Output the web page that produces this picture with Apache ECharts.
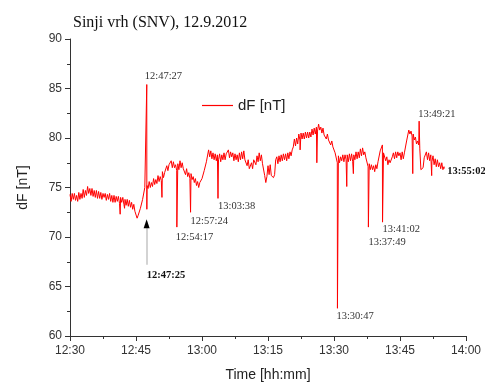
<!DOCTYPE html>
<html>
<head>
<meta charset="utf-8">
<script src="https://cdn.jsdelivr.net/npm/echarts@6/dist/echarts.min.js"></script>
<style>
  html, body { margin: 0; padding: 0; background: #fff; }
  #main { width: 485px; height: 387px; }
</style>
</head>
<body>
<div id="main"></div>
<script>
// dF samples every 15 s starting 12:30:00
var startTime = '12:30:00';
var stepSec = 15;
var dfBase = [
  74.3, 73.6, 74.4, 73.8,  74.4, 73.7, 74.2, 73.6,  74.5, 73.8, 74.4, 73.9,
  74.8, 74.0, 74.7, 74.2,  75.1, 74.4, 74.9, 74.2,  74.9, 74.1, 74.7, 74.0,
  74.7, 73.9, 74.6, 73.9,  74.5, 73.8, 74.4, 74.0,  74.4, 73.7, 74.3, 73.8,
  74.4, 73.6, 74.2, 73.5,  74.2, 73.5, 74.1, 73.6,  74.1, 73.4, 74.0, 73.5,
  74.0, 73.3, 73.8, 73.2,  73.8, 73.1, 73.7, 73.0,  73.5, 72.8, 73.3, 72.6,
  72.5, 71.9, 72.2, 72.0,  72.9, 72.9, 73.8, 74.0,  75.0, 74.8, 75.2, 74.9,
  75.6, 75.0, 75.5, 75.1,  75.9, 75.3, 75.8, 75.4,  76.2, 75.6, 76.1, 75.7,
  76.6, 76.0, 76.5, 76.3,  77.2, 76.7, 77.3, 77.1,  77.7, 77.0, 77.6, 77.0,
  77.3, 76.7, 77.4, 76.8,  77.7, 77.0, 77.5, 76.9,  76.9, 76.3, 76.9, 76.1,
  76.5, 75.9, 76.4, 75.8,  76.1, 75.5, 75.9, 75.2,  75.6, 75.0, 75.5, 75.4,
  75.9, 76.0, 76.7, 76.8,  77.6, 77.6, 78.8, 78.1,  78.7, 77.9, 78.5, 77.8,
  78.4, 77.7, 78.3, 77.8,  78.4, 77.6, 78.3, 77.8,  78.5, 77.8, 78.4, 78.3,
  78.8, 78.0, 78.6, 78.1,  78.5, 77.7, 78.4, 77.8,  78.3, 77.6, 78.5, 77.8,
  78.6, 77.9, 78.7, 77.8,  78.0, 77.2, 77.8, 76.9,  77.1, 77.5, 76.9, 77.8,
  77.9, 77.3, 78.2, 77.6,  78.5, 77.7, 78.3, 77.4,  77.2, 76.2, 75.5, 76.1,
  77.2, 76.3, 77.3, 76.2,  76.4, 76.0, 76.3, 77.8,  78.1, 77.4, 78.2, 77.6,
  78.3, 77.7, 78.4, 77.8,  78.4, 77.7, 78.5, 77.9,  78.6, 78.2, 78.8, 79.1,
  79.9, 79.2, 80.0, 79.4,  80.4, 79.8, 80.5, 79.9,  80.5, 79.9, 80.6, 80.0,
  80.6, 80.0, 80.6, 80.1,  80.9, 80.3, 81.0, 80.4,  81.1, 80.7, 81.4, 80.8,
  81.1, 80.5, 81.0, 80.3,  80.5, 79.9, 80.4, 79.8,  79.9, 79.3, 79.7, 79.1,
  79.2, 78.5, 78.4, 77.5,  78.2, 77.5, 78.1, 77.7,  78.3, 77.6, 78.3, 77.8,
  78.3, 77.6, 78.4, 77.7,  78.4, 77.6, 78.3, 77.8,  78.6, 77.9, 78.6, 78.0,
  78.9, 78.2, 79.0, 78.3,  78.6, 78.0, 77.8, 77.1,  77.4, 76.8, 77.3, 76.8,
  77.2, 76.6, 77.3, 76.9,  77.6, 77.8, 78.7, 78.7,  79.3, 78.5, 78.5, 77.7,
  78.1, 77.3, 77.8, 77.5,  77.7, 78.1, 78.5, 77.9,  78.6, 78.0, 78.6, 78.2,
  78.5, 77.8, 78.6, 77.9,  78.5, 78.6, 79.7, 79.6,  80.8, 80.4, 80.7, 80.2,
  80.4, 79.8, 80.1, 79.4,  79.7, 79.3, 78.9, 76.8,  76.8, 77.0, 78.0, 78.0,
  78.6, 77.8, 78.5, 77.7,  78.3, 77.6, 78.2, 77.3,  77.9, 77.1, 77.8, 77.1,
  77.5, 76.9, 77.5, 76.8,  77.1
];
// single-sample spikes (and the last sample)
var spikeTimes = ['12:41:24', '12:42:24', '12:47:27', '12:47:28', '12:50:54', '12:54:17',
  '12:57:24', '13:03:38', '13:22:18', '13:26:06', '13:30:47', '13:32:54', '13:34:24',
  '13:37:49', '13:41:02', '13:47:54', '13:49:21', '13:52:12', '13:55:02'];
var spikeValues = [72.3, 72.9, 85.4, 72.8, 74.0, 71.0,
  72.5, 73.9, 78.8, 77.5, 62.8, 75.1, 76.4,
  71.0, 71.5, 76.4, 81.7, 76.2, 76.9];
// labelled events
var noteTimes = ['12:47:27', '12:54:17', '12:57:24', '13:03:38', '13:30:47', '13:37:49', '13:41:02', '13:49:21'];
var arrowTime = '12:47:25';
var arrowRange = [67.2, 71.8];

var yTicks = [60, 65, 70, 75, 80, 85, 90];
var xStart = '12:30:00', xEnd = '14:00:00', xStep = 15 * 60;

function toSec(s) {
  var p = s.split(':');
  return (+p[0]) * 3600 + (+p[1]) * 60 + (+p[2] || 0);
}
function pad(n) { return n < 10 ? '0' + n : '' + n; }
function hhmm(sec) {
  return pad(Math.floor(sec / 3600)) + ':' + pad(Math.floor(sec % 3600 / 60));
}
function hhmmss(sec) {
  return hhmm(sec) + ':' + pad(Math.round(sec % 60));
}

var t0 = toSec(startTime);
var points = dfBase.map(function (v, i) { return [t0 + i * stepSec, v]; });
spikeTimes.forEach(function (s, i) { points.push([toSec(s), spikeValues[i]]); });
points.sort(function (a, b) { return a[0] - b[0]; });

// label offsets (px) from the spike tip
var noteOffset = {
  '12:47:27': [-2, -8],
  '12:54:17': [-1, 10],
  '12:57:24': [0, 9],
  '13:03:38': [0, 8],
  '13:30:47': [-1, 8],
  '13:37:49': [0, 15],
  '13:41:02': [0, 7],
  '13:49:21': [-1, -7]
};
var serif = '"Liberation Serif", "Times New Roman", serif';
var sans = '"Liberation Sans", Arial, sans-serif';

var markData = noteTimes.map(function (t) {
  return {
    coord: [toSec(t), spikeValues[spikeTimes.indexOf(t)]],
    symbol: 'circle',
    symbolSize: 1,
    itemStyle: { color: 'rgba(0,0,0,0)' },
    label: {
      show: true, formatter: t, position: 'inside', align: 'left', verticalAlign: 'middle',
      offset: noteOffset[t], color: '#333', fontFamily: serif, fontSize: 10.5
    }
  };
});
var ta = toSec(arrowTime);
markData.push({
  coord: [ta, arrowRange[1]],
  symbol: 'triangle', symbolSize: [6, 9], symbolOffset: [0, '50%'],
  itemStyle: { color: '#000' },
  label: { show: false }
});
markData.push({
  coord: [ta, arrowRange[0]],
  symbol: 'circle', symbolSize: 1,
  itemStyle: { color: 'rgba(0,0,0,0)' },
  label: {
    show: true, formatter: arrowTime, position: 'inside', align: 'left', verticalAlign: 'middle',
    offset: [0, 11], color: '#111', fontFamily: serif, fontSize: 10.5, fontWeight: 'bold'
  }
});

var chart = echarts.init(document.getElementById('main'), null, { renderer: 'canvas' });
var option = {
  animation: false,
  backgroundColor: '#fff',
  title: {
    text: 'Sinji vrh (SNV), 12.9.2012',
    left: 68, top: 10,
    textStyle: { fontFamily: serif, fontSize: 16, fontWeight: 'normal', color: '#111' }
  },
  legend: {
    left: 197, top: 93,
    icon: 'rect',
    itemWidth: 31, itemHeight: 1.2, itemGap: 5,
    textStyle: { fontFamily: sans, fontSize: 15, color: '#222' },
    data: ['dF [nT]']
  },
  grid: { left: 70, right: 19, top: 39, bottom: 45, containLabel: false },
  xAxis: {
    type: 'value',
    min: toSec(xStart), max: toSec(xEnd), interval: xStep,
    name: 'Time [hh:mm]', nameLocation: 'middle', nameGap: 32,
    nameTextStyle: { fontFamily: sans, fontSize: 14, color: '#222' },
    axisLine: { show: true, onZero: false, lineStyle: { color: '#333', width: 1 } },
    axisTick: { show: true, inside: false, length: 5, lineStyle: { color: '#333' } },
    minorTick: { show: true, splitNumber: 2, length: 3, lineStyle: { color: '#333' } },
    axisLabel: { formatter: hhmm, fontFamily: sans, fontSize: 12, color: '#333', margin: 9 },
    splitLine: { show: false }
  },
  yAxis: {
    type: 'value',
    min: yTicks[0], max: yTicks[yTicks.length - 1], interval: yTicks[1] - yTicks[0],
    name: 'dF [nT]', nameLocation: 'middle', nameGap: 40, nameRotate: 90,
    nameTextStyle: { fontFamily: sans, fontSize: 14, color: '#222' },
    axisLine: { show: true, lineStyle: { color: '#333', width: 1 } },
    axisTick: { show: true, inside: false, length: 5, lineStyle: { color: '#333' } },
    minorTick: { show: true, splitNumber: 2, length: 3, lineStyle: { color: '#333' } },
    axisLabel: { fontFamily: sans, fontSize: 12, color: '#333', margin: 8 },
    splitLine: { show: false }
  },
  series: [{
    name: 'dF [nT]',
    type: 'line',
    data: points,
    symbol: 'none',
    showSymbol: false,
    lineStyle: { color: '#ff0000', width: 1 },
    itemStyle: { color: '#ff0000' },
    endLabel: {
      show: true,
      formatter: function (p) { return hhmmss(p.value[0]); },
      distance: 3, offset: [0, 3],
      fontFamily: serif, fontSize: 10.5, fontWeight: 'bold', color: '#111'
    },
    markLine: {
      silent: true,
      symbol: ['none', 'none'],
      label: { show: false },
      lineStyle: { color: '#c4c4c4', width: 1.5, type: 'solid' },
      data: [[{ coord: [ta, arrowRange[0]] }, { coord: [ta, arrowRange[1] - 0.6] }]]
    },
    markPoint: { silent: true, data: markData }
  }]
};
chart.setOption(option);
</script>
</body>
</html>
